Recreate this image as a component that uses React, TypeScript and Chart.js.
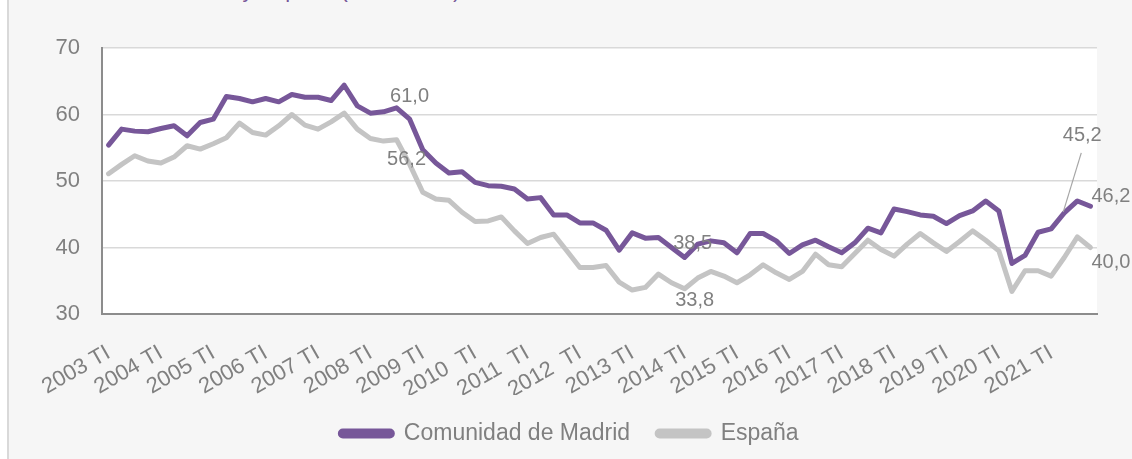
import React, { useEffect, useRef } from "react";
import { Chart, registerables } from "chart.js";

Chart.register(...registerables);

const years = [2003, 2004, 2005, 2006, 2007, 2008, 2009, 2010, 2011, 2012, 2013, 2014, 2015, 2016, 2017, 2018, 2019, 2020, 2021];
const quarters = ["TI", "TII", "TIII", "TIV"];
const categories = years.flatMap((y) => quarters.map((q) => `${y} ${q}`));

const xTickLabels = [
  "2003 TI", "2004 TI", "2005 TI", "2006 TI", "2007 TI", "2008 TI", "2009 TI",
  "2010  TI", "2011  TI", "2012  TI", "2013 TI", "2014 TI", "2015 TI", "2016 TI",
  "2017 TI", "2018 TI", "2019 TI", "2020 TI", "2021 TI",
];

const seriesNames = ["Comunidad de Madrid", "España"];

const madrid = [
  55.4, 57.8, 57.5, 57.4, 57.9, 58.3, 56.8, 58.8,
  59.3, 62.7, 62.4, 61.9, 62.4, 61.9, 63.0, 62.6,
  62.6, 62.1, 64.4, 61.3, 60.2, 60.4, 61.0, 59.3,
  54.7, 52.7, 51.2, 51.4, 49.8, 49.3, 49.2, 48.8,
  47.3, 47.5, 44.9, 44.9, 43.7, 43.7, 42.6, 39.6,
  42.2, 41.4, 41.5, 40.0, 38.5, 40.5, 41.0, 40.7,
  39.2, 42.1, 42.1, 41.0, 39.1, 40.4, 41.1, 40.1,
  39.2, 40.7, 42.9, 42.2, 45.8, 45.4, 44.9, 44.7,
  43.6, 44.8, 45.5, 47.0, 45.5, 37.6, 38.8, 42.3,
  42.8, 45.2, 47.0, 46.2,
];

const espana = [
  51.1, 52.5, 53.8, 53.0, 52.7, 53.6, 55.3, 54.8,
  55.6, 56.5, 58.7, 57.3, 56.9, 58.3, 60.0, 58.4,
  57.8, 58.9, 60.2, 57.8, 56.4, 56.0, 56.2, 52.5,
  48.3, 47.3, 47.1, 45.3, 43.9, 44.0, 44.6, 42.5,
  40.6, 41.5, 42.0, 39.5, 37.0, 37.0, 37.3, 34.8,
  33.6, 34.0, 36.0, 34.7, 33.8, 35.4, 36.4, 35.7,
  34.7, 35.9, 37.4, 36.2, 35.2, 36.4, 39.0, 37.4,
  37.1, 39.1, 41.1, 39.7, 38.7, 40.5, 42.1, 40.7,
  39.4, 40.9, 42.5, 41.1, 39.5, 33.4, 36.5, 36.5,
  35.7, 38.5, 41.6, 40.0,
];

const yTicks = [30, 40, 50, 60, 70];

// which points carry a value label (series, point index) and how the label sits relative to the point
const valueLabels = [
  { series: 0, index: 22, dx: 13, dy: -11, align: "center", leader: false },
  { series: 1, index: 22, dx: 10, dy: 20, align: "center", leader: false },
  { series: 0, index: 44, dx: 8, dy: -14, align: "center", leader: false },
  { series: 1, index: 44, dx: 10, dy: 12, align: "center", leader: false },
  { series: 0, index: 73, dx: 18, dy: -77, align: "center", leader: true },
  { series: 0, index: 75, dx: 1, dy: -10, align: "left", leader: false },
  { series: 1, index: 75, dx: 1, dy: 15, align: "left", leader: false },
];

const PURPLE = "#775799";
const LIGHTGREY = "#c4c4c4";
const TEXT = "#808080";
const FONT = "'Liberation Sans', Arial, sans-serif";

const plotBackground = {
  id: "plotBackground",
  beforeDraw(chart: any) {
    const { ctx, chartArea } = chart;
    ctx.save();
    ctx.fillStyle = "#ffffff";
    ctx.fillRect(chartArea.left, chartArea.top, chartArea.right - chartArea.left, chartArea.bottom - chartArea.top);
    ctx.restore();
  },
};

const valueLabelPlugin = {
  id: "valueLabels",
  afterDatasetsDraw(chart: any) {
    const { ctx } = chart;
    ctx.save();
    ctx.font = `20px ${FONT}`;
    ctx.fillStyle = TEXT;
    ctx.textBaseline = "middle";
    valueLabels.forEach((l) => {
      const meta = chart.getDatasetMeta(l.series);
      const pt = meta.data[l.index];
      if (!pt) return;
      const v = chart.data.datasets[l.series].data[l.index] as number;
      const text = v.toFixed(1).replace(".", ",");
      const x = pt.x + l.dx;
      const y = pt.y + l.dy;
      ctx.textAlign = l.align;
      ctx.fillText(text, x, y);
      if (l.leader) {
        ctx.strokeStyle = "#a6a6a6";
        ctx.lineWidth = 1.2;
        ctx.beginPath();
        ctx.moveTo(x - 1, y + 17);
        ctx.lineTo(pt.x - 1, pt.y - 1);
        ctx.stroke();
      }
    });
    ctx.restore();
  },
};

export default function App() {
  const canvasRef = useRef<HTMLCanvasElement | null>(null);

  useEffect(() => {
    if (!canvasRef.current) return;
    const chart = new Chart(canvasRef.current, {
      type: "line",
      data: {
        labels: categories,
        datasets: [
          {
            label: seriesNames[0],
            data: madrid,
            borderColor: PURPLE,
            backgroundColor: PURPLE,
            borderWidth: 5,
            pointRadius: 0,
            tension: 0,
            borderJoinStyle: "round",
            borderCapStyle: "round",
          },
          {
            label: seriesNames[1],
            data: espana,
            borderColor: LIGHTGREY,
            backgroundColor: LIGHTGREY,
            borderWidth: 5,
            pointRadius: 0,
            tension: 0,
            borderJoinStyle: "round",
            borderCapStyle: "round",
          },
        ],
      },
      options: {
        responsive: false,
        animation: false,
        devicePixelRatio: 1,
        layout: { padding: { left: 42, right: 35, top: 48, bottom: 4 } },
        plugins: {
          legend: {
            position: "bottom",
            labels: {
              color: TEXT,
              font: { family: FONT, size: 23 },
              boxWidth: 52,
              boxHeight: 5,
              useBorderRadius: true,
              borderRadius: 2.5,
              padding: 27,
            },
          },
          tooltip: { enabled: false },
        },
        scales: {
          x: {
            type: "category",
            offset: true,
            grid: { display: false, drawTicks: false },
            border: { display: true, color: "#8c8c8c", width: 2 },
            ticks: {
              autoSkip: false,
              maxRotation: 30,
              minRotation: 30,
              padding: 26,
              color: TEXT,
              font: { family: FONT, size: 22 },
              callback: (_v: any, i: number) => (i % 4 === 0 ? xTickLabels[i / 4] : ""),
            },
            afterFit: (s: any) => {
              s.height = 81;
            },
          },
          y: {
            min: 30,
            max: 70,
            afterBuildTicks: (s: any) => {
              s.ticks = yTicks.map((v) => ({ value: v }));
            },
            grid: { color: "#d9d9d9", lineWidth: 1.5, drawTicks: false },
            border: { display: true, color: "#8c8c8c", width: 2 },
            ticks: {
              padding: 22,
              color: TEXT,
              font: { family: FONT, size: 22 },
            },
            afterFit: (s: any) => {
              s.width = 60;
            },
          },
        },
      },
      plugins: [plotBackground, valueLabelPlugin],
    });
    return () => chart.destroy();
  }, []);

  return (
    <div style={{ position: "absolute", left: 0, top: 0, width: 1132, height: 459, background: "#ffffff", overflow: "hidden" }}>
      <div
        style={{
          position: "absolute",
          left: 7,
          top: 0,
          width: 1123,
          height: 459,
          background: "#f6f6f6",
          borderLeft: "2px solid #d9d9d9",
          overflow: "hidden",
        }}
      >
        <div
          style={{
            position: "absolute",
            left: 11,
            top: -21,
            whiteSpace: "nowrap",
            color: PURPLE,
            fontFamily: FONT,
            fontSize: 22,
            lineHeight: "22px",
          }}
        >
          Comunidad de Madrid y España (2003-2021)
        </div>
      </div>
      <canvas ref={canvasRef} width={1132} height={459} style={{ position: "absolute", left: 0, top: 0, width: 1132, height: 459 }} />
    </div>
  );
}
